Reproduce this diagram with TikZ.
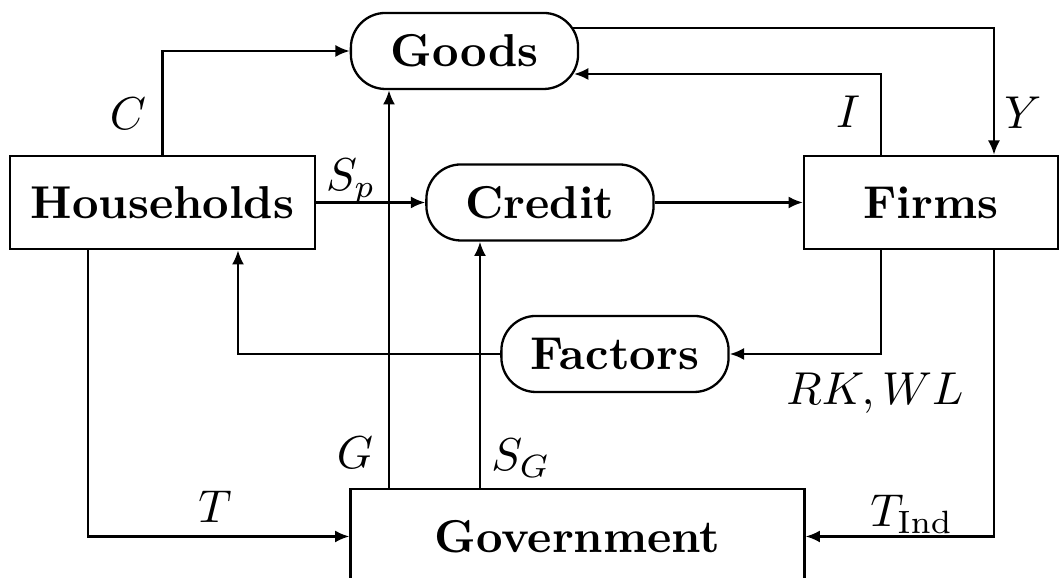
\documentclass[tikz,border=0pt]{standalone}
\usetikzlibrary{arrows.meta}
\begin{document}
\begin{tikzpicture}[x=0.217pt, y=-0.217pt,
  line width=0.5pt,
  box/.style={draw, fill=white, inner sep=0pt, font=\bfseries, minimum height=20.2pt},
  pill/.style={draw, inner sep=0pt, font=\bfseries, rounded corners=7.5pt,
               minimum width=49.3pt, minimum height=16.5pt},
  arr/.style={-{Latex[length=3.1pt,width=2.6pt]}},
  lbl/.style={inner sep=0pt}]
\useasboundingbox (0,0) rectangle (1060,578);
\clip (0,0) rectangle (1060,578);

% sectors
\node[box, minimum width=66.2pt] (hh) at (162.5,202.5) {Households};
\node[box, minimum width=55.1pt] (firms) at (931,202.5) {Firms};
\node[box, minimum width=98.5pt, minimum height=20.6pt] (gov) at (577.5,536.5) {Government};

% markets
\node[pill] (goods) at (464.5,51) {Goods};
\node[pill] (credit) at (540,202.5) {Credit};
\node[pill] (factors) at (615,354) {Factors};

% x and y positions of the routed flows
\coordinate (xT) at (88,0);
\coordinate (xF) at (238,0);
\coordinate (xG) at (389,0);
\coordinate (xSG) at (480,0);
\coordinate (xI) at (881,0);
\coordinate (xY) at (994,0);
\coordinate (gY) at (571,28);
\coordinate (gI) at (574,74);

% flows
\draw[arr] (hh.north) |- (goods.west);
\draw[arr] (gY) -| (firms.north -| xY);
\draw[arr] (firms.north -| xI) |- (gI);
\draw[arr] (hh.east) -- (credit.west);
\draw[arr] (credit.east) -- (firms.west);
\draw[arr] (firms.south -| xI) |- (factors.east);
\draw[arr] (factors.west) -| (hh.south -| xF);
\draw[arr] (gov.north -| xG) -- (goods.south -| xG);
\draw[arr] (gov.north -| xSG) -- (credit.south -| xSG);
\draw[arr] (hh.south -| xT) |- (gov.west);
\draw[arr] (firms.south -| xY) |- (gov.east);

% flow labels
\node[lbl] (lC) at (128,114) {$C$};
\node[lbl] (lY) at (1023,113) {$Y$};
\node[lbl] (lI) at (848,112) {$I$};
\node[lbl] (lSp) at (351,181) {$S_p$};
\node[lbl] (lRW) at (875,393) {$RK,WL$};
\node[lbl] (lG) at (355,453) {$G$};
\node[lbl] (lSG) at (521,458) {$S_G$};
\node[lbl] (lT) at (215,507) {$T$};
\node[lbl] (lTI) at (912,514) {$T_{\mathrm{Ind}}$};
\end{tikzpicture}
\end{document}
